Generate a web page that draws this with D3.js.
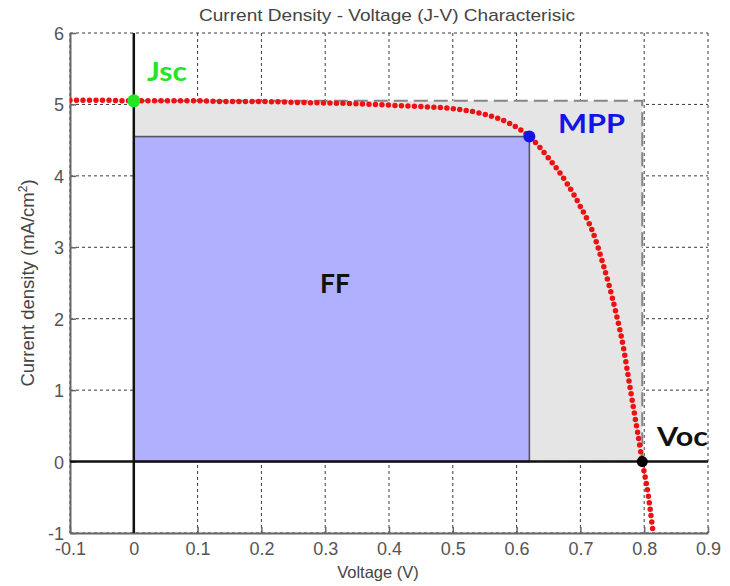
<!DOCTYPE html>
<html>
<head>
<meta charset="utf-8">
<script src="https://cdn.jsdelivr.net/npm/d3@7"></script>
<style>
    body { margin: 0; background: #fff; }
    svg { display: block; }
</style>
</head>
<body>
<script>
// Values (voltage in V, current density in mA/cm2).
var voltage = [-0.1, -0.05, 0, 0.05, 0.1, 0.15, 0.2, 0.25, 0.3, 0.35, 0.4, 0.45, 0.5, 0.55, 0.59,
    0.62, 0.65, 0.68, 0.70, 0.72, 0.735, 0.755, 0.768, 0.775, 0.783, 0.790, 0.797, 0.806, 0.814];
var current = [5.06, 5.06, 5.05, 5.05, 5.05, 5.04, 5.04, 5.03, 5.02, 5.01, 4.99, 4.97, 4.94, 4.86, 4.73,
    4.55, 4.25, 3.88, 3.57, 3.20, 2.78, 2.11, 1.57, 1.19, 0.76, 0.39, 0.0, -0.45, -1.0];

// Characteristic points.
var jsc = [0, 5.05];
var mpp = [0.62, 4.55];
var voc = [0.797, 0];

// Axis ticks and labels.
var xTicks = [-0.1, 0, 0.1, 0.2, 0.3, 0.4, 0.5, 0.6, 0.7, 0.8, 0.9];
var xTickLabels = ["-0.1", "0", "0.1", "0.2", "0.3", "0.4", "0.5", "0.6", "0.7", "0.8", "0.9"];
var yTicks = [-1, 0, 1, 2, 3, 4, 5, 6];
var yTickLabels = ["-1", "0", "1", "2", "3", "4", "5", "6"];

var width = 730, height = 586;
var plotLeft = 70, plotRight = 708, plotTop = 33, plotBottom = 533;
var font = "'Liberation Sans', Arial, sans-serif";

var svg = d3.select("body").append("svg")
    .attr("width", width)
    .attr("height", height);

var x = d3.scaleLinear().domain([-0.1, 0.9]).range([plotLeft, plotRight]);
var y = d3.scaleLinear().domain([-1, 6]).range([plotBottom, plotTop]);

svg.append("clipPath").attr("id", "plot")
    .append("rect")
    .attr("x", plotLeft).attr("y", plotTop)
    .attr("width", plotRight - plotLeft).attr("height", plotBottom - plotTop);

// Dotted grid.
var grid = svg.append("g")
    .attr("stroke", "#3a3a3a")
    .attr("stroke-width", 1)
    .attr("stroke-dasharray", "3,3");

grid.selectAll("line.v")
    .data(xTicks)
    .join("line")
    .attr("class", "v")
    .attr("x1", d => x(d)).attr("x2", d => x(d))
    .attr("y1", plotTop).attr("y2", plotBottom);

grid.selectAll("line.h")
    .data(yTicks)
    .join("line")
    .attr("class", "h")
    .attr("x1", plotLeft).attr("x2", plotRight)
    .attr("y1", d => y(d)).attr("y2", d => y(d));

// Jsc x Voc rectangle.
svg.append("rect")
    .attr("x", x(0))
    .attr("y", y(jsc[1]))
    .attr("width", x(voc[0]) - x(0))
    .attr("height", y(0) - y(jsc[1]))
    .attr("fill", "#e5e5e5");

svg.append("path")
    .attr("d", d3.line()([[x(0), y(jsc[1])], [x(voc[0]), y(jsc[1])], [x(voc[0]), y(0)]]))
    .attr("fill", "none")
    .attr("stroke", "#858585")
    .attr("stroke-width", 2)
    .attr("stroke-dasharray", "14,6");

// Maximum power rectangle (FF).
svg.append("rect")
    .attr("x", x(0))
    .attr("y", y(mpp[1]))
    .attr("width", x(mpp[0]) - x(0))
    .attr("height", y(0) - y(mpp[1]))
    .attr("fill", "#b0b0ff")
    .attr("stroke", "#55556a")
    .attr("stroke-width", 1.6);

// Axes with inward ticks.
var xAxis = svg.append("g")
    .attr("transform", "translate(0," + plotBottom + ")")
    .call(d3.axisBottom(x).tickValues(xTicks)
        .tickFormat((d, i) => xTickLabels[i])
        .tickSize(-6).tickSizeOuter(0).tickPadding(9));

var yAxis = svg.append("g")
    .attr("transform", "translate(" + plotLeft + ",0)")
    .call(d3.axisLeft(y).tickValues(yTicks)
        .tickFormat((d, i) => yTickLabels[i])
        .tickSize(-6).tickSizeOuter(0).tickPadding(6));

[xAxis, yAxis].forEach(g => {
    g.select(".domain").attr("stroke", "#666").attr("stroke-width", 2);
    g.selectAll(".tick line").attr("stroke", "#666").attr("stroke-width", 1.5);
    g.selectAll(".tick text")
        .attr("fill", "#555")
        .style("font-family", font)
        .style("font-size", "18px");
});
yAxis.selectAll(".tick text").attr("dy", "0.36em");

// Zero lines.
svg.append("line")
    .attr("x1", plotLeft).attr("x2", plotRight)
    .attr("y1", y(0)).attr("y2", y(0))
    .attr("stroke", "#111").attr("stroke-width", 2.5);

svg.append("line")
    .attr("x1", x(0)).attr("x2", x(0))
    .attr("y1", plotTop).attr("y2", plotBottom)
    .attr("stroke", "#111").attr("stroke-width", 2.5);

// J-V curve as a red dotted line.
var points = voltage.map((v, i) => [v, current[i]]);

svg.append("path")
    .datum(points)
    .attr("clip-path", "url(#plot)")
    .attr("d", d3.line()
        .x(d => x(d[0]))
        .y(d => y(d[1]))
        .curve(d3.curveMonotoneX))
    .attr("fill", "none")
    .attr("stroke", "#ee1111")
    .attr("stroke-width", 5.5)
    .attr("stroke-linecap", "round")
    .attr("stroke-dasharray", "0,6.5");

// Characteristic point markers.
var markers = [
    { p: jsc, color: "#22e622", r: 6.5 },
    { p: mpp, color: "#1414e6", r: 6 },
    { p: voc, color: "#000", r: 5.5 }
];

svg.selectAll("circle.marker")
    .data(markers)
    .join("circle")
    .attr("class", "marker")
    .attr("cx", d => x(d.p[0]))
    .attr("cy", d => y(d.p[1]))
    .attr("r", d => d.r)
    .attr("fill", d => d.color);

// Annotations.
var notes = [
    { text: "Jsc", x: 147, y: 81, w: 40, color: "#22e622" },
    { text: "MPP", x: 558, y: 133, w: 67, color: "#1414e6" },
    { text: "FF", x: 320, y: 293, w: 30, color: "#111" },
    { text: "Voc", x: 657, y: 446, w: 51, color: "#111" }
];

svg.selectAll("text.note")
    .data(notes)
    .join("text")
    .attr("class", "note")
    .attr("x", d => d.x)
    .attr("y", d => d.y)
    .attr("textLength", d => d.w)
    .attr("lengthAdjust", "spacingAndGlyphs")
    .attr("fill", d => d.color)
    .style("font-family", "Lato, 'Open Sans', sans-serif")
    .style("font-weight", "bold")
    .style("font-size", "27px")
    .text(d => d.text);

// Title and axis labels.
svg.append("text")
    .attr("x", 199)
    .attr("y", 21)
    .attr("textLength", 376)
    .attr("lengthAdjust", "spacingAndGlyphs")
    .attr("fill", "#444")
    .style("font-family", font)
    .style("font-size", "17px")
    .text("Current Density - Voltage (J-V) Characterisic");

svg.append("text")
    .attr("x", 378)
    .attr("y", 578)
    .attr("text-anchor", "middle")
    .attr("fill", "#444")
    .style("font-family", font)
    .style("font-size", "16.5px")
    .text("Voltage (V)");

var yLabel = svg.append("text")
    .attr("transform", "translate(34,283) rotate(-90)")
    .attr("text-anchor", "middle")
    .attr("fill", "#444")
    .style("font-family", font)
    .style("font-size", "18.5px");

yLabel.append("tspan").text("Current density (mA/cm");
yLabel.append("tspan").attr("dy", -7).style("font-size", "12px").text("2");
yLabel.append("tspan").attr("dy", 7).text(")");
</script>
</body>
</html>
